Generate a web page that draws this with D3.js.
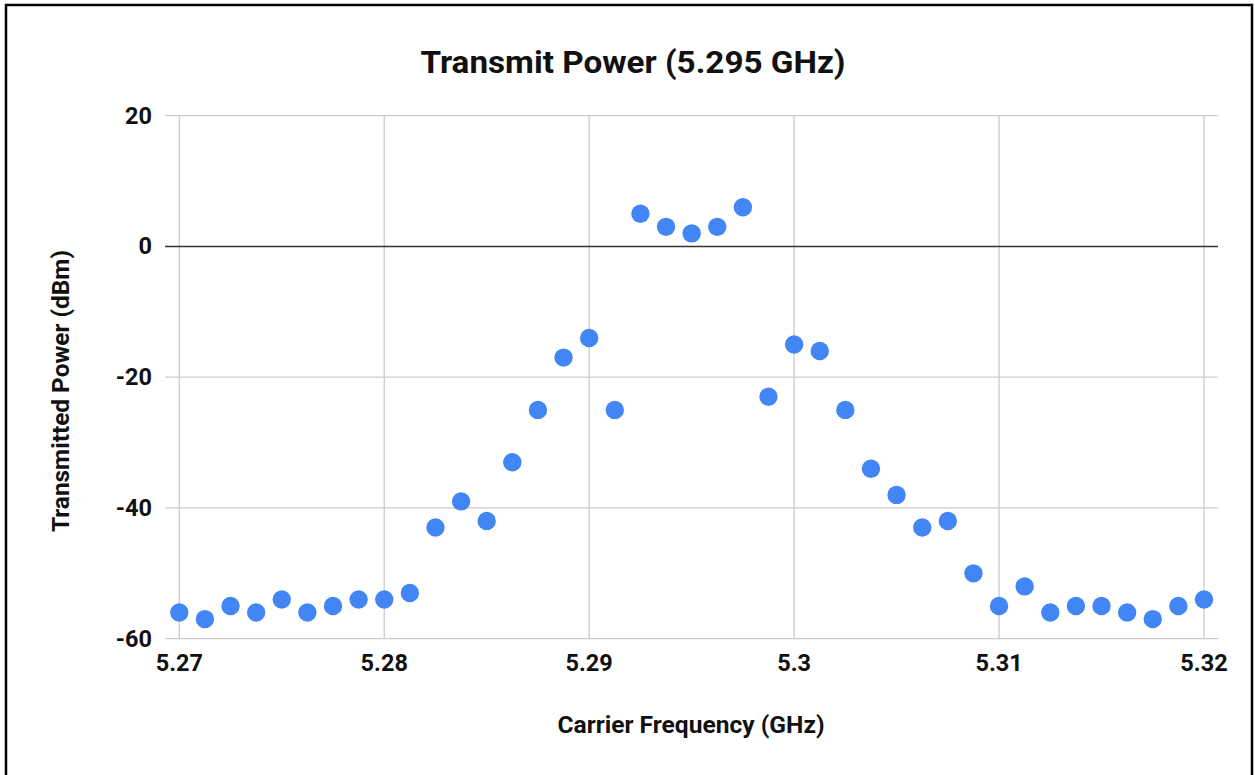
<!DOCTYPE html>
<html>
<head>
<meta charset="utf-8">
<script src="https://cdn.jsdelivr.net/npm/d3@7"></script>
<style>
  html, body { margin: 0; padding: 0; background: #fff; }
  svg { display: block; }
  text { font-family: Roboto, "Noto Sans", sans-serif; font-weight: 700; fill: #111; }
</style>
</head>
<body>
<svg id="chart" width="1255" height="775"></svg>
<script>
const frequencies = [
  5.27, 5.27125, 5.2725, 5.27375, 5.275, 5.27625, 5.2775, 5.27875,
  5.28, 5.28125, 5.2825, 5.28375, 5.285, 5.28625, 5.2875, 5.28875,
  5.29, 5.29125, 5.2925, 5.29375, 5.295, 5.29625, 5.2975, 5.29875,
  5.30, 5.30125, 5.3025, 5.30375, 5.305, 5.30625, 5.3075, 5.30875,
  5.31, 5.31125, 5.3125, 5.31375, 5.315, 5.31625, 5.3175, 5.31875,
  5.32
];
const powers = [
  -56, -57, -55, -56, -54, -56, -55, -54,
  -54, -53, -43, -39, -42, -33, -25, -17,
  -14, -25, 5, 3, 2, 3, 6, -23,
  -15, -16, -25, -34, -38, -43, -42, -50,
  -55, -52, -56, -55, -55, -56, -57, -55,
  -54
];
const xTicks = [5.27, 5.28, 5.29, 5.30, 5.31, 5.32];
const xTickLabels = ["5.27", "5.28", "5.29", "5.3", "5.31", "5.32"];
const yTicks = [20, 0, -20, -40, -60];
const yTickLabels = ["20", "0", "-20", "-40", "-60"];
const chartTitle = "Transmit Power (5.295 GHz)";
const xTitle = "Carrier Frequency (GHz)";
const yTitle = "Transmitted Power (dBm)";

const svg = d3.select("#chart");

// frame
svg.append("path")
  .attr("d", "M6,780 L6,5 L1252,5 L1252,780")
  .attr("fill", "none").attr("stroke", "#000").attr("stroke-width", 2.5);

const x = d3.scaleLinear().domain([5.27, 5.32]).range([179.3, 1204]);
const y = d3.scaleLinear().domain([-60, 20]).range([638.7, 115.7]);
const plotLeft = 165, plotRight = 1218;

// vertical gridlines
svg.append("g").selectAll("line").data(xTicks).join("line")
  .attr("x1", d => x(d)).attr("x2", d => x(d))
  .attr("y1", y(20)).attr("y2", y(-60))
  .attr("stroke", "#cccccc").attr("stroke-width", 1.3);

// horizontal gridlines
svg.append("g").selectAll("line").data(yTicks.filter(d => d !== 0)).join("line")
  .attr("x1", plotLeft).attr("x2", plotRight)
  .attr("y1", d => y(d)).attr("y2", d => y(d))
  .attr("stroke", "#cccccc").attr("stroke-width", 1.3);

// zero baseline
svg.append("line")
  .attr("x1", plotLeft).attr("x2", plotRight)
  .attr("y1", y(0)).attr("y2", y(0))
  .attr("stroke", "#333333").attr("stroke-width", 1.6);

// y tick labels
svg.append("g").selectAll("text").data(yTicks).join("text")
  .attr("x", 152).attr("y", d => y(d))
  .attr("text-anchor", "end").attr("dominant-baseline", "central")
  .attr("font-size", 23.5)
  .text((d, i) => yTickLabels[i]);

// x tick labels
svg.append("g").selectAll("text").data(xTicks).join("text")
  .attr("x", d => x(d)).attr("y", 663)
  .attr("text-anchor", "middle").attr("dominant-baseline", "central")
  .attr("font-size", 23.5)
  .text((d, i) => xTickLabels[i]);

// points
svg.append("g").selectAll("circle").data(frequencies).join("circle")
  .attr("cx", d => x(d))
  .attr("cy", (d, i) => y(powers[i]))
  .attr("r", 9.2)
  .attr("fill", "#4285f4");

// titles
svg.append("text")
  .attr("x", 633).attr("y", 62)
  .attr("text-anchor", "middle").attr("dominant-baseline", "central")
  .attr("font-size", 31)
  .attr("textLength", 425).attr("lengthAdjust", "spacingAndGlyphs")
  .text(chartTitle);

svg.append("text")
  .attr("x", 691).attr("y", 725)
  .attr("text-anchor", "middle").attr("dominant-baseline", "central")
  .attr("font-size", 24)
  .attr("textLength", 267).attr("lengthAdjust", "spacingAndGlyphs")
  .text(xTitle);

svg.append("text")
  .attr("transform", "translate(61,391) rotate(-90)")
  .attr("text-anchor", "middle").attr("dominant-baseline", "central")
  .attr("font-size", 24)
  .attr("textLength", 282).attr("lengthAdjust", "spacingAndGlyphs")
  .text(yTitle);
</script>
</body>
</html>
